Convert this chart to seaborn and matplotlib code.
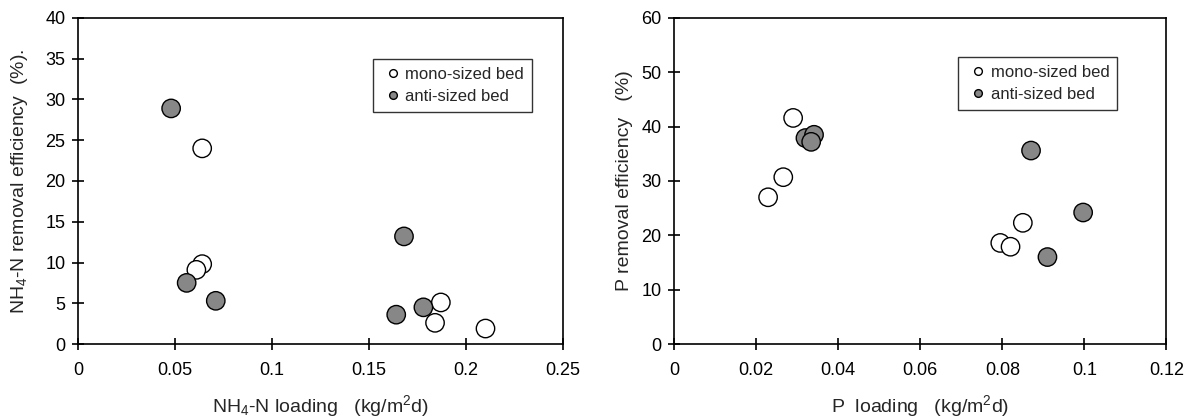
import pandas as pd
import numpy as np

import seaborn as sns
import matplotlib.pyplot as plt

# data
nh4_mono_x = [0.064, 0.064, 0.061, 0.187, 0.184, 0.210]
nh4_mono_y = [24.0, 9.8, 9.1, 5.1, 2.6, 1.9]
nh4_anti_x = [0.048, 0.056, 0.071, 0.168, 0.164, 0.178]
nh4_anti_y = [28.9, 7.5, 5.3, 13.2, 3.6, 4.5]

p_mono_x = [0.029, 0.0266, 0.0229, 0.0795, 0.082, 0.085]
p_mono_y = [41.6, 30.7, 27.0, 18.6, 17.9, 22.3]
p_anti_x = [0.032, 0.0341, 0.0334, 0.087, 0.0997, 0.091]
p_anti_y = [37.9, 38.5, 37.2, 35.6, 24.2, 16.0]

beds = ['mono-sized bed', 'anti-sized bed']
colors = {'mono-sized bed': 'white', 'anti-sized bed': '#878787'}

sns.set_style('ticks')
plt.rcParams['font.family'] = ['Liberation Sans', 'DejaVu Sans']
plt.rcParams['mathtext.fontset'] = 'custom'
plt.rcParams['mathtext.rm'] = 'Liberation Sans'
plt.rcParams['mathtext.it'] = 'Liberation Sans'
plt.rcParams['mathtext.default'] = 'regular'


def make_df(mx, my, ax_, ay):
    return pd.DataFrame({
        'x': mx + ax_,
        'y': my + ay,
        'bed': [beds[0]] * len(mx) + [beds[1]] * len(ax_),
    })


def panel(ax, df, xlim, xticks, xlabels, ylim, yticks, xlabel, ylabel, leg_anchor, ypad):
    sns.scatterplot(data=df, x='x', y='y', hue='bed', hue_order=beds,
                    palette=colors, edgecolor='black', linewidth=1,
                    s=175, ax=ax, zorder=3)
    ax.set_xlim(*xlim)
    ax.set_ylim(*ylim)
    ax.set_xticks(xticks)
    ax.set_xticklabels(xlabels)
    ax.set_yticks(yticks)
    ax.tick_params(direction='inout', length=8, width=1.2, labelsize=13,
                   colors='black')
    ax.tick_params(axis='x', pad=9)
    ax.tick_params(axis='y', pad=5)
    for sp in ax.spines.values():
        sp.set_visible(True)
        sp.set_color('black')
        sp.set_linewidth(1.2)
    ax.set_xlabel(xlabel, fontsize=14, labelpad=10)
    ax.set_ylabel(ylabel, fontsize=14, labelpad=ypad)
    handles, labels = ax.get_legend_handles_labels()
    leg = ax.legend(handles, labels, loc='upper left', bbox_to_anchor=leg_anchor,
                    markerscale=0.42, fontsize=12, frameon=True, fancybox=False,
                    edgecolor='black', handletextpad=0.0, borderpad=0.45,
                    labelspacing=0.45, handlelength=1.5, borderaxespad=0)
    leg.get_frame().set_linewidth(1.0)


fig = plt.figure(figsize=(11.89, 4.17), dpi=100)
ax1 = fig.add_axes([0.0656, 0.175, 0.408, 0.782])
ax2 = fig.add_axes([0.567, 0.175, 0.414, 0.782])

panel(ax1, make_df(nh4_mono_x, nh4_mono_y, nh4_anti_x, nh4_anti_y),
      (0, 0.25), [0, 0.05, 0.1, 0.15, 0.2, 0.25],
      ['0', '0.05', '0.1', '0.15', '0.2', '0.25'],
      (0, 40), range(0, 41, 5),
      'NH$_4$-N loading   (kg/m$^2$d)',
      'NH$_4$-N removal efficiency  (%).',
      (0.608, 0.874), 11)

panel(ax2, make_df(p_mono_x, p_mono_y, p_anti_x, p_anti_y),
      (0, 0.12), [0, 0.02, 0.04, 0.06, 0.08, 0.1, 0.12],
      ['0', '0.02', '0.04', '0.06', '0.08', '0.1', '0.12'],
      (0, 60), range(0, 61, 10),
      'P  loading   (kg/m$^2$d)',
      'P removal efficiency   (%)',
      (0.577, 0.88), 6)

fig.savefig('out.png', dpi=100)
